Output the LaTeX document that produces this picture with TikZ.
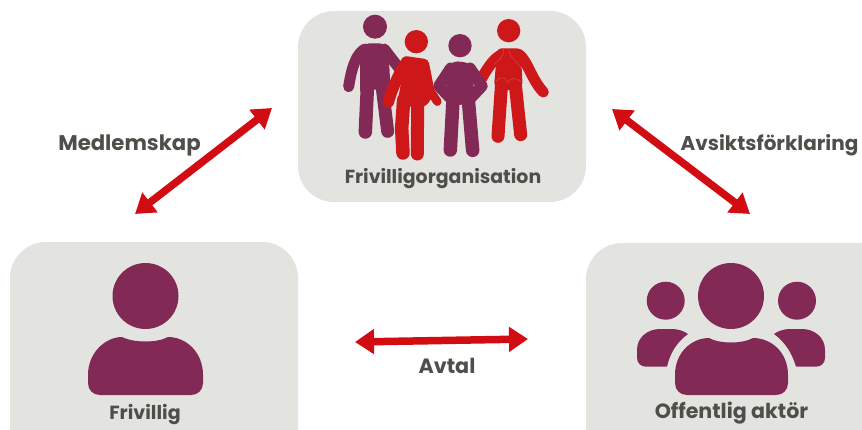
\documentclass[tikz,border=0pt]{standalone}
\usepackage{fontspec}
\setmainfont{Poppins}
\usetikzlibrary{arrows.meta}
\definecolor{boxgrey}{HTML}{E3E4E0}
\definecolor{plum}{HTML}{822955}
\definecolor{redc}{HTML}{CD1719}
\definecolor{arrowred}{HTML}{D20C13}
\definecolor{txt}{HTML}{4F4F4A}
\tikzset{
  panel/.style={fill=boxgrey,draw=none,rounded corners=36pt},
  lbl/.style={text=txt,font=\fontsize{#1}{24}\selectfont\bfseries,inner sep=0pt,anchor=center},
  link/.style={draw=arrowred,line width=7.5pt,{Triangle[length=19pt,width=24pt,fill=arrowred]}-{Triangle[length=19pt,width=24pt,fill=arrowred]}},
  limb/.style={line cap=round,line join=round,draw=#1},
  seam/.style={draw=redc!65!boxgrey,line width=0.3pt}
}
\begin{document}
\begin{tikzpicture}[x=1pt,y=-1pt]
\useasboundingbox (0,0) rectangle (862,429);
\clip (0,0) rectangle (862,429);
% panels
\fill[panel] (298,11) rectangle (586,202);
\fill[panel] (10,242) rectangle (298,470);
\fill[panel] (586,243) rectangle (900,470);
% group of four figures (coordinates of a 3x enlargement)
\begin{scope}[shift={(290,0)},x=0.33333pt,y=-0.33333pt]
 % figure 1
 \fill[plum] (255,80) circle[radius=36];
 \fill[plum,rounded corners=5pt] (210,175) -- (222,130) -- (285,130) -- (298,195) -- (302,285) -- (255,265) -- (210,285) -- cycle;
 \draw[limb=plum,line width=11pt] (225,147) .. controls (200,160) and (185,200) .. (176,260);
 \draw[limb=plum,line width=11pt] (283,147) -- (335,215);
 \draw[limb=plum,line width=13.5pt] (232,265) -- (226,396);
 \draw[limb=plum,line width=13pt] (277,265) -- (293,394);
 % figure 4
 \fill[redc] (656,92) circle[radius=35];
 \fill[redc,rounded corners=4pt] (622,145) -- (692,145) -- (698,260) -- (655,272) -- (612,260) -- cycle;
 \draw[limb=redc,line width=11pt] (640,162) .. controls (615,170) and (595,200) .. (575,235);
 \draw[limb=redc,line width=11pt] (685,162) .. controls (712,180) and (725,240) .. (760,276);
 \draw[limb=redc,line width=13pt] (635,245) -- (624,409);
 \draw[limb=redc,line width=13pt] (675,245) -- (692,404);
 \draw[seam] (640,147) .. controls (645,170) and (625,180) .. (612,195);
 \draw[seam] (657,150) .. controls (655,170) and (685,185) .. (695,208);
 \draw[seam] (618,243) .. controls (630,228) and (650,232) .. (655,248);
 \draw[seam] (655,248) .. controls (660,232) and (680,232) .. (693,245);
 % figure 2
 \fill[redc] (379,125) circle[radius=35];
 \fill[redc,rounded corners=4pt] (345,168) -- (415,178) -- (435,280) -- (407,320) -- (320,320) -- (332,255) -- cycle;
 \draw[limb=redc,line width=11.5pt] (350,186) .. controls (330,215) and (310,255) .. (295,306);
 \draw[limb=redc,line width=8.5pt] (418,268) -- (442,305);
 \draw[limb=redc,line width=13.5pt] (341,300) -- (335,385) -- (339,459);
 \draw[limb=redc,line width=13pt] (383,300) -- (382,462);
 % figure 3
 \fill[plum] (510,137) circle[radius=35];
 \fill[plum,rounded corners=4pt] (470,205) -- (492,183) -- (535,188) -- (552,208) -- (550,295) -- (512,318) -- (470,295) -- cycle;
 \draw[limb=plum,line width=11.5pt] (482,205) -- (447,258) -- (478,291);
 \draw[limb=plum,line width=11.5pt] (540,205) -- (576,258) -- (545,291);
 \draw[limb=plum,line width=13.5pt] (489,300) -- (481,450);
 \draw[limb=plum,line width=13.5pt] (535,300) -- (548,451);
\end{scope}
% single person
\fill[plum] (145.5,296) circle[radius=33];
\fill[plum] (88,383) -- (88,375) .. controls (88,352) and (106,337) .. (122,337)
  .. controls (134,343) and (157,343) .. (168,337)
  .. controls (186,337) and (203,352) .. (203,375) -- (203,383)
  .. controls (203,390) and (198,395) .. (191,395) -- (100,395)
  .. controls (93,395) and (88,390) .. (88,383) -- cycle;
% three persons
\fill[plum] (731,296) circle[radius=33];
\fill[plum] (665.7,300.7) circle[radius=19];
\fill[plum] (797,300.7) circle[radius=19];
\fill[plum] (675,383) -- (675,375) .. controls (675,352) and (692,338) .. (709,338)
  .. controls (720,344) and (742,344) .. (753,338)
  .. controls (771,338) and (788,352) .. (788,375) -- (788,383)
  .. controls (788,390) and (783,395) .. (776,395) -- (687,395)
  .. controls (680,395) and (675,390) .. (675,383) -- cycle;
\fill[plum] (637,358) -- (637,350) .. controls (637,337) and (648,329) .. (660,329) -- (672,329)
  .. controls (678,329) and (684,331) .. (688,334) .. controls (677,342) and (670,353) .. (667,366.7)
  -- (646,366.7) .. controls (641,366.7) and (637,363) .. (637,358) -- cycle;
\fill[plum] (825,358) -- (825,350) .. controls (825,337) and (814,329) .. (802,329) -- (790,329)
  .. controls (784,329) and (778,331) .. (774,334) .. controls (785,342) and (792,353) .. (796,366.7)
  -- (816,366.7) .. controls (821,366.7) and (825,363) .. (825,358) -- cycle;
% labels
\node[lbl=18.9] (org) at (443,179) {Frivilligorganisation};
\node[lbl=19] (friv) at (145,414) {Frivillig};
\node[lbl=20.6] (off) at (731.5,413) {Offentlig aktör};
\node[lbl=21.2] (med) at (129.5,145) {Medlemskap};
\node[lbl=20] (avs) at (769.5,145) {Avsiktsförklaring};
\node[lbl=20.7] (avt) at (447,366) {Avtal};
% connectors
\coordinate (a1) at (135,214);
\coordinate (a2) at (272,108);
\coordinate (b1) at (612,109);
\coordinate (b2) at (750,214);
\coordinate (c1) at (355,342);
\coordinate (c2) at (528,339);
\draw[link] (a1) -- (a2);
\draw[link] (b1) -- (b2);
\draw[link] (c1) -- (c2);
\end{tikzpicture}
\end{document}
